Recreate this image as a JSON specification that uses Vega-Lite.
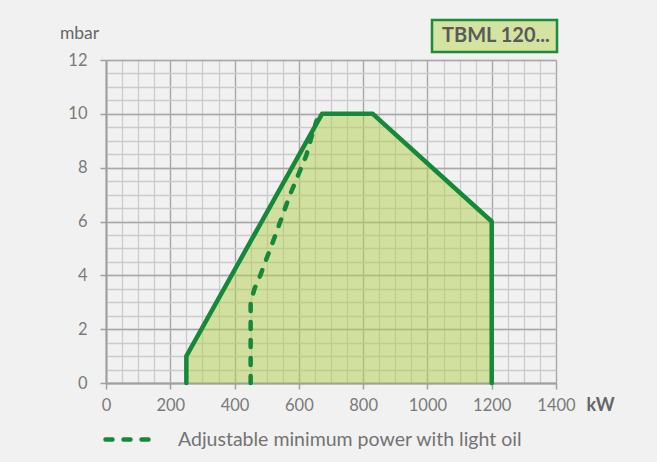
{
  "$schema": "https://vega.github.io/schema/vega-lite/v6.json",
  "width": 450,
  "height": 323,
  "autosize": {"type": "none"},
  "padding": {"left": 106, "top": 60, "right": 101, "bottom": 79},
  "background": "#f1f1f1",
  "config": {"view": {"stroke": null}, "font": "Lato"},
  "datasets": {
    "outline": [
      {"i": 0, "kw": 250, "mbar": 0, "model": "TBML 120..."},
      {"i": 1, "kw": 250, "mbar": 1, "model": "TBML 120..."},
      {"i": 2, "kw": 672, "mbar": 10, "model": "TBML 120..."},
      {"i": 3, "kw": 830, "mbar": 10, "model": "TBML 120..."},
      {"i": 4, "kw": 1200, "mbar": 6, "model": "TBML 120..."},
      {"i": 5, "kw": 1200, "mbar": 0, "model": "TBML 120..."}
    ],
    "minimum": [
      {"i": 0, "kw": 450, "mbar": 0, "series": "Adjustable minimum power with light oil"},
      {"i": 1, "kw": 450, "mbar": 3.0, "series": "Adjustable minimum power with light oil"},
      {"i": 2, "kw": 462, "mbar": 3.5, "series": "Adjustable minimum power with light oil"},
      {"i": 3, "kw": 480, "mbar": 4.0, "series": "Adjustable minimum power with light oil"},
      {"i": 4, "kw": 526, "mbar": 5.46, "series": "Adjustable minimum power with light oil"},
      {"i": 5, "kw": 571, "mbar": 6.95, "series": "Adjustable minimum power with light oil"},
      {"i": 6, "kw": 597, "mbar": 7.7, "series": "Adjustable minimum power with light oil"},
      {"i": 7, "kw": 623, "mbar": 8.45, "series": "Adjustable minimum power with light oil"},
      {"i": 8, "kw": 643, "mbar": 9.3, "series": "Adjustable minimum power with light oil"},
      {"i": 9, "kw": 655, "mbar": 9.75, "series": "Adjustable minimum power with light oil"}
    ]
  },
  "layer": [
    {
      "data": {"name": "outline"},
      "transform": [{"filter": "datum.i >= 1 && datum.i <= 4"}],
      "mark": {"type": "area", "fillOpacity": 0.5},
      "encoding": {
        "x": {
          "field": "kw", "type": "quantitative",
          "scale": {"domain": [0, 1400], "nice": false},
          "axis": {
            "orient": "bottom",
            "values": [0,50,100,150,200,250,300,350,400,450,500,550,600,650,700,750,800,850,900,950,1000,1050,1100,1150,1200,1250,1300,1350,1400],
            "grid": true, "gridColor": "#cbcbcb", "gridWidth": 1.3,
            "labels": false, "ticks": false, "domain": false, "title": null
          }
        },
        "y": {
          "field": "mbar", "type": "quantitative",
          "scale": {"domain": [0, 12], "nice": false},
          "axis": {
            "orient": "left",
            "values": [0,0.5,1,1.5,2,2.5,3,3.5,4,4.5,5,5.5,6,6.5,7,7.5,8,8.5,9,9.5,10,10.5,11,11.5,12],
            "grid": true, "gridColor": "#cbcbcb", "gridWidth": 1.3,
            "labels": false, "ticks": false, "domain": false, "title": null
          }
        },
        "fill": {
          "field": "model", "type": "nominal",
          "scale": {"range": ["#b2d04c"]},
          "legend": {
            "title": null,
            "orient": "none",
            "legendX": 326,
            "legendY": -40,
            "fillColor": "#d4e3a0",
            "strokeColor": "#1f8a3c",
            "padding": 6,
            "symbolSize": 0,
            "symbolOpacity": 0,
            "labelOffset": -16,
            "labelFont": "Lato",
            "labelFontSize": 20,
            "labelFontWeight": "bold",
            "labelColor": "#5a5a5a",
            "encode": {"legend": {"update": {"strokeWidth": {"value": 2.5}}}}
          }
        }
      }
    },
    {
      "data": {"name": "outline"},
      "mark": {"type": "line", "stroke": "#17873a", "strokeWidth": 4.5, "strokeJoin": "round", "strokeCap": "round"},
      "encoding": {
        "x": {
          "field": "kw", "type": "quantitative",
          "axis": {
            "orient": "bottom",
            "values": [0,200,400,600,800,1000,1200,1400],
            "format": "d",
            "labelFlush": false,
            "labelOverlap": false,
            "grid": true, "gridColor": "#a8a8a8", "gridWidth": 1.3,
            "domainColor": "#a0a0a0", "domainWidth": 2,
            "tickColor": "#a0a0a0", "tickSize": 6, "tickWidth": 1.5,
            "labelFont": "Lato", "labelFontSize": 16.5, "labelColor": "#7a7a7a", "labelPadding": 8,
            "title": "kW", "titleX": 494, "titleY": 22, "titleAngle": 0,
            "titleAlign": "center", "titleBaseline": "middle",
            "titleFont": "Lato", "titleFontSize": 18, "titleFontWeight": "bold", "titleColor": "#666666"
          }
        },
        "y": {
          "field": "mbar", "type": "quantitative",
          "axis": {
            "orient": "left",
            "values": [0,2,4,6,8,10,12],
            "labelFlush": false,
            "labelOverlap": false,
            "grid": true, "gridColor": "#a8a8a8", "gridWidth": 1.3,
            "domainColor": "#a0a0a0", "domainWidth": 2,
            "tickColor": "#a0a0a0", "tickSize": 6, "tickWidth": 1.5,
            "labelFont": "Lato", "labelFontSize": 16.5, "labelColor": "#7a7a7a", "labelPadding": 13,
            "title": "mbar", "titleX": -27, "titleY": -27, "titleAngle": 0,
            "titleAlign": "center", "titleBaseline": "middle",
            "titleFont": "Lato", "titleFontSize": 17.5, "titleFontWeight": "normal", "titleColor": "#666666"
          }
        },
        "order": {"field": "i", "type": "quantitative"}
      }
    },
    {
      "data": {"name": "minimum"},
      "mark": {"type": "line", "stroke": "#17873a", "strokeWidth": 4.5, "strokeCap": "round"},
      "encoding": {
        "x": {"field": "kw", "type": "quantitative", "axis": null},
        "y": {"field": "mbar", "type": "quantitative", "axis": null},
        "order": {"field": "i", "type": "quantitative"},
        "strokeDash": {
          "field": "series", "type": "nominal",
          "scale": {"range": [[7, 11]]},
          "legend": {
            "title": null,
            "orient": "none",
            "legendX": -3,
            "legendY": 350,
            "padding": 0,
            "symbolType": "stroke",
            "symbolSize": 2916,
            "symbolStrokeWidth": 4.5,
            "symbolStrokeColor": "#17873a",
            "labelOffset": 16,
            "labelLimit": 500,
            "labelFont": "Lato",
            "labelFontSize": 19.5,
            "labelColor": "#737373",
            "encode": {"symbols": {"update": {"strokeDash": {"value": [10, 12]}, "strokeCap": {"value": "round"}}}}
          }
        }
      }
    }
  ],
  "resolve": {
    "axis": {"x": "independent", "y": "independent"},
    "legend": {"fill": "independent", "strokeDash": "independent"}
  }
}
